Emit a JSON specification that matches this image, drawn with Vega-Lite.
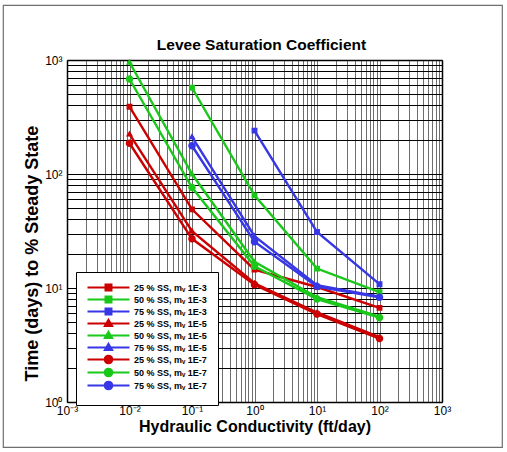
{
  "$schema": "https://vega.github.io/schema/vega-lite/v6.json",
  "width": 499,
  "height": 442,
  "autosize": {"type": "none"},
  "padding": {"left": 3, "top": 5, "right": 5, "bottom": 5},
  "background": "white",
  "config": {
    "view": {"stroke": "#6f6f6f", "strokeWidth": 1.2},
    "font": "Liberation Sans"
  },
  "title": {
    "text": "Levee Saturation Coefficient",
    "font": "Liberation Sans",
    "fontSize": 15.5,
    "fontWeight": "bold",
    "color": "black",
    "anchor": "middle",
    "offset": -48,
    "dx": 9
  },
  "data": {
    "values": [
      {"k": 0.01, "t": 389, "series": "25 % SS, mᵥ 1E-3"},
      {"k": 0.1, "t": 49, "series": "25 % SS, mᵥ 1E-3"},
      {"k": 1, "t": 14.5, "series": "25 % SS, mᵥ 1E-3"},
      {"k": 10, "t": 10.2, "series": "25 % SS, mᵥ 1E-3"},
      {"k": 100, "t": 6.7, "series": "25 % SS, mᵥ 1E-3"},

      {"k": 0.1, "t": 571, "series": "50 % SS, mᵥ 1E-3"},
      {"k": 1, "t": 65, "series": "50 % SS, mᵥ 1E-3"},
      {"k": 10, "t": 14.8, "series": "50 % SS, mᵥ 1E-3"},
      {"k": 100, "t": 9.2, "series": "50 % SS, mᵥ 1E-3"},

      {"k": 1, "t": 240, "series": "75 % SS, mᵥ 1E-3"},
      {"k": 10, "t": 31, "series": "75 % SS, mᵥ 1E-3"},
      {"k": 100, "t": 10.8, "series": "75 % SS, mᵥ 1E-3"},

      {"k": 0.01, "t": 224, "series": "25 % SS, mᵥ 1E-5"},
      {"k": 0.1, "t": 31.5, "series": "25 % SS, mᵥ 1E-5"},
      {"k": 1, "t": 11, "series": "25 % SS, mᵥ 1E-5"},
      {"k": 10, "t": 6.1, "series": "25 % SS, mᵥ 1E-5"},
      {"k": 100, "t": 3.7, "series": "25 % SS, mᵥ 1E-5"},

      {"k": 0.01, "t": 955, "series": "50 % SS, mᵥ 1E-5"},
      {"k": 0.1, "t": 100, "series": "50 % SS, mᵥ 1E-5"},
      {"k": 1, "t": 17, "series": "50 % SS, mᵥ 1E-5"},
      {"k": 10, "t": 8.3, "series": "50 % SS, mᵥ 1E-5"},
      {"k": 100, "t": 5.6, "series": "50 % SS, mᵥ 1E-5"},

      {"k": 0.1, "t": 212, "series": "75 % SS, mᵥ 1E-5"},
      {"k": 1, "t": 28.5, "series": "75 % SS, mᵥ 1E-5"},
      {"k": 10, "t": 10.6, "series": "75 % SS, mᵥ 1E-5"},
      {"k": 100, "t": 8.4, "series": "75 % SS, mᵥ 1E-5"},

      {"k": 0.01, "t": 186, "series": "25 % SS, mᵥ 1E-7"},
      {"k": 0.1, "t": 27, "series": "25 % SS, mᵥ 1E-7"},
      {"k": 1, "t": 10.7, "series": "25 % SS, mᵥ 1E-7"},
      {"k": 10, "t": 5.9, "series": "25 % SS, mᵥ 1E-7"},
      {"k": 100, "t": 3.6, "series": "25 % SS, mᵥ 1E-7"},

      {"k": 0.01, "t": 681, "series": "50 % SS, mᵥ 1E-7"},
      {"k": 0.1, "t": 76, "series": "50 % SS, mᵥ 1E-7"},
      {"k": 1, "t": 15.5, "series": "50 % SS, mᵥ 1E-7"},
      {"k": 10, "t": 8.0, "series": "50 % SS, mᵥ 1E-7"},
      {"k": 100, "t": 5.5, "series": "50 % SS, mᵥ 1E-7"},

      {"k": 0.1, "t": 177, "series": "75 % SS, mᵥ 1E-7"},
      {"k": 1, "t": 25.5, "series": "75 % SS, mᵥ 1E-7"},
      {"k": 10, "t": 10.3, "series": "75 % SS, mᵥ 1E-7"},
      {"k": 100, "t": 8.3, "series": "75 % SS, mᵥ 1E-7"}
    ]
  },
  "layer": [
    {
      "mark": {"type": "line", "strokeWidth": 2.4, "clip": true},
      "encoding": {
        "x": {
          "field": "k",
          "type": "quantitative",
          "scale": {"type": "log", "domain": [0.001, 1000], "range": [64, 439], "nice": false},
          "axis": {
            "orient": "bottom",
            "offset": -45,
            "values": [0.001, 0.01, 0.1, 1, 10, 100, 1000],
            "labelExpr": "datum.value == 0.001 ? '10⁻³' : datum.value == 0.01 ? '10⁻²' : datum.value == 0.1 ? '10⁻¹' : datum.value == 1 ? '10⁰' : datum.value == 10 ? '10¹' : datum.value == 100 ? '10²' : '10³'",
            "labelFont": "Liberation Sans",
            "labelFontSize": 12,
            "labelColor": "black",
            "labelPadding": 3,
            "labelOverlap": false,
            "labelFlush": false,
            "labelBound": false,
            "ticks": false,
            "tickSize": 0,
            "grid": false,
            "domainColor": "black",
            "domainWidth": 1.5,
            "title": "Hydraulic Conductivity (ft/day)",
            "titleFont": "Liberation Sans",
            "titleFontSize": 16,
            "titleFontWeight": "bold",
            "titleColor": "black",
            "titlePadding": 2
          }
        },
        "y": {
          "field": "t",
          "type": "quantitative",
          "scale": {"type": "log", "domain": [1, 1000], "range": [397, 55], "nice": false},
          "axis": {
            "orient": "left",
            "offset": -64,
            "values": [1, 2, 3, 4, 5, 6, 7, 8, 9, 10, 20, 30, 40, 50, 60, 70, 80, 90, 100, 200, 300, 400, 500, 600, 700, 800, 900, 1000],
            "labelExpr": "datum.value == 1 ? '10⁰' : datum.value == 10 ? '10¹' : datum.value == 100 ? '10²' : datum.value == 1000 ? '10³' : ''",
            "labelFont": "Liberation Sans",
            "labelFontSize": 12,
            "labelColor": "black",
            "labelPadding": 5,
            "labelOverlap": false,
            "labelFlush": false,
            "labelBound": false,
            "ticks": false,
            "tickSize": 0,
            "grid": true,
            "gridColor": "black",
            "gridOpacity": 1,
            "gridWidth": 1,
            "domainColor": "black",
            "domainWidth": 1.5,
            "title": "Time (days) to % Steady State",
            "titleFont": "Liberation Sans",
            "titleFontSize": 18,
            "titleFontWeight": "bold",
            "titleColor": "black",
            "titlePadding": 3,
            "titleY": 248
          }
        },
        "color": {
          "field": "series",
          "type": "nominal",
          "scale": {
            "domain": ["25 % SS, mᵥ 1E-3", "50 % SS, mᵥ 1E-3", "75 % SS, mᵥ 1E-3", "25 % SS, mᵥ 1E-5", "50 % SS, mᵥ 1E-5", "75 % SS, mᵥ 1E-5", "25 % SS, mᵥ 1E-7", "50 % SS, mᵥ 1E-7", "75 % SS, mᵥ 1E-7"],
            "range": ["#cc0000", "#19c819", "#3737e6", "#cc0000", "#19c819", "#3737e6", "#cc0000", "#19c819", "#3737e6"]
          },
          "legend": {
            "title": null,
            "orient": "none",
            "legendX": 73,
            "legendY": 267,
            "padding": 11,
            "strokeColor": "black",
            "fillColor": "white",
            "symbolSize": 17.64,
            "symbolOffset": 17,
            "labelOffset": 21,
            "rowPadding": -6.45,
            "labelFont": "Liberation Sans",
            "labelFontSize": 9,
            "labelFontWeight": "bold",
            "labelColor": "black",
            "labelLimit": 200,
            "encode": {
              "symbols": {
                "update": {
                  "size": {"value": 17.64},
                  "stroke": {"scale": "color", "field": "value"},
                  "fill": {"scale": "color", "field": "value"},
                  "strokeWidth": {"value": 2.1},
                  "opacity": {"value": 1}
                }
              }
            }
          }
        }
      }
    },
    {
      "mark": {"type": "point", "filled": true, "opacity": 1, "size": 17.64},
      "encoding": {
        "x": {
          "field": "k",
          "type": "quantitative",
          "scale": {"type": "log", "domain": [0.001, 1000], "range": [64, 439], "nice": false},
          "axis": {
            "orient": "top",
            "offset": -55,
            "values": [0.001, 0.002, 0.003, 0.004, 0.005, 0.006, 0.007, 0.008, 0.009, 0.01, 0.02, 0.03, 0.04, 0.05, 0.06, 0.07, 0.08, 0.09, 0.1, 0.2, 0.3, 0.4, 0.5, 0.6, 0.7, 0.8, 0.9, 1, 2, 3, 4, 5, 6, 7, 8, 9, 10, 20, 30, 40, 50, 60, 70, 80, 90, 100, 200, 300, 400, 500, 600, 700, 800, 900, 1000],
            "labels": false,
            "ticks": false,
            "tickSize": 0,
            "grid": true,
            "gridColor": "#6e6e6e",
            "gridOpacity": 1,
            "gridWidth": 1,
            "domainColor": "black",
            "domainWidth": 1.5,
            "title": null
          }
        },
        "y": {
          "field": "t",
          "type": "quantitative",
          "scale": {"type": "log", "domain": [1, 1000], "range": [397, 55], "nice": false},
          "axis": {
            "orient": "right",
            "offset": -60,
            "labels": false,
            "ticks": false,
            "tickSize": 0,
            "grid": false,
            "domainColor": "black",
            "domainWidth": 1.5,
            "title": null
          }
        },
        "color": {
          "field": "series",
          "type": "nominal",
          "legend": null
        },
        "shape": {
          "field": "series",
          "type": "nominal",
          "scale": {
            "domain": ["25 % SS, mᵥ 1E-3", "50 % SS, mᵥ 1E-3", "75 % SS, mᵥ 1E-3", "25 % SS, mᵥ 1E-5", "50 % SS, mᵥ 1E-5", "75 % SS, mᵥ 1E-5", "25 % SS, mᵥ 1E-7", "50 % SS, mᵥ 1E-7", "75 % SS, mᵥ 1E-7"],
            "range": [
              "M-10,0H10M-1.4,-1.4H1.4V1.4H-1.4Z",
              "M-10,0H10M-1.4,-1.4H1.4V1.4H-1.4Z",
              "M-10,0H10M-1.4,-1.4H1.4V1.4H-1.4Z",
              "M-10,0H10M0,-1.7L1.7,1.2H-1.7Z",
              "M-10,0H10M0,-1.7L1.7,1.2H-1.7Z",
              "M-10,0H10M0,-1.7L1.7,1.2H-1.7Z",
              "M-10,0H10M-1.8,0A1.8,1.8,0,1,0,1.8,0A1.8,1.8,0,1,0,-1.8,0Z",
              "M-10,0H10M-1.8,0A1.8,1.8,0,1,0,1.8,0A1.8,1.8,0,1,0,-1.8,0Z",
              "M-10,0H10M-1.8,0A1.8,1.8,0,1,0,1.8,0A1.8,1.8,0,1,0,-1.8,0Z"
            ]
          },
          "legend": null
        }
      }
    }
  ]
}
